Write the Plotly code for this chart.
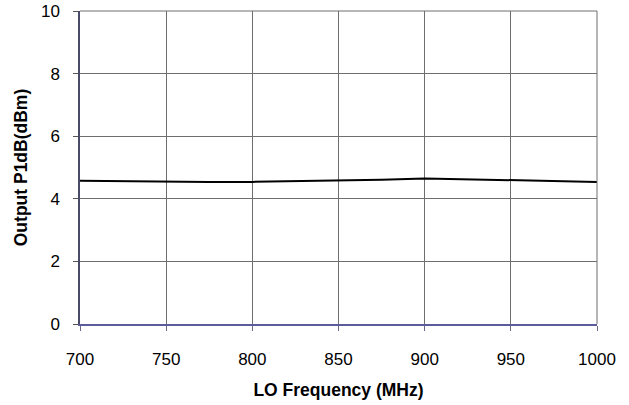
import plotly.graph_objects as go

freq_mhz = [700, 725, 750, 775, 800, 825, 850, 875, 900, 925, 950, 975, 1000]
p1db_dbm = [4.58, 4.56, 4.54, 4.54, 4.54, 4.56, 4.58, 4.61, 4.65, 4.62, 4.59, 4.56, 4.54]
x_ticks = [700, 750, 800, 850, 900, 950, 1000]
y_ticks = [0, 2, 4, 6, 8, 10]

fig = go.Figure(go.Scatter(x=freq_mhz, y=p1db_dbm, mode="lines",
                           line=dict(color="black", width=2)))

font = "Liberation Sans, Arial, sans-serif"
fig.update_layout(
    width=629, height=405,
    margin=dict(l=80, r=32, t=11, b=81, autoexpand=False),
    paper_bgcolor="white", plot_bgcolor="white",
    showlegend=False,
    font=dict(family=font, size=16, color="black"),
)
# top and right frame of the plot area
fig.add_shape(type="line", xref="paper", yref="paper", x0=0, x1=1, y0=1, y1=1,
              line=dict(color="#6e6e6e", width=1))
fig.add_shape(type="line", xref="paper", yref="paper", x0=1, x1=1, y0=0, y1=1,
              line=dict(color="#6e6e6e", width=1))
fig.update_xaxes(
    range=[700, 1000], tickvals=x_ticks, ticks="outside", ticklen=5,
    tickcolor="#6a6a8a", showgrid=True, gridcolor="#6e6e6e", gridwidth=1,
    showline=True, linecolor="#5c5c9a", linewidth=1.5, automargin=False,
    tickfont=dict(size=17), zeroline=False, ticklabelstandoff=14,
    title=dict(text="<b>LO Frequency (MHz)</b>", font=dict(size=17.5), standoff=16),
)
fig.update_yaxes(
    range=[0, 10], tickvals=y_ticks, ticks="outside", ticklen=5,
    tickcolor="#555555", showgrid=True, gridcolor="#6e6e6e", gridwidth=1,
    showline=True, linecolor="#4a4a6a", linewidth=1.5, automargin=False,
    tickfont=dict(size=17), zeroline=False, ticklabelstandoff=10,
    title=dict(text="<b>Output P1dB(dBm)</b>", font=dict(size=17.5), standoff=9),
)
fig.write_html("out.html", config={"displayModeBar": False},
               post_script="document.body.style.margin='0';")
